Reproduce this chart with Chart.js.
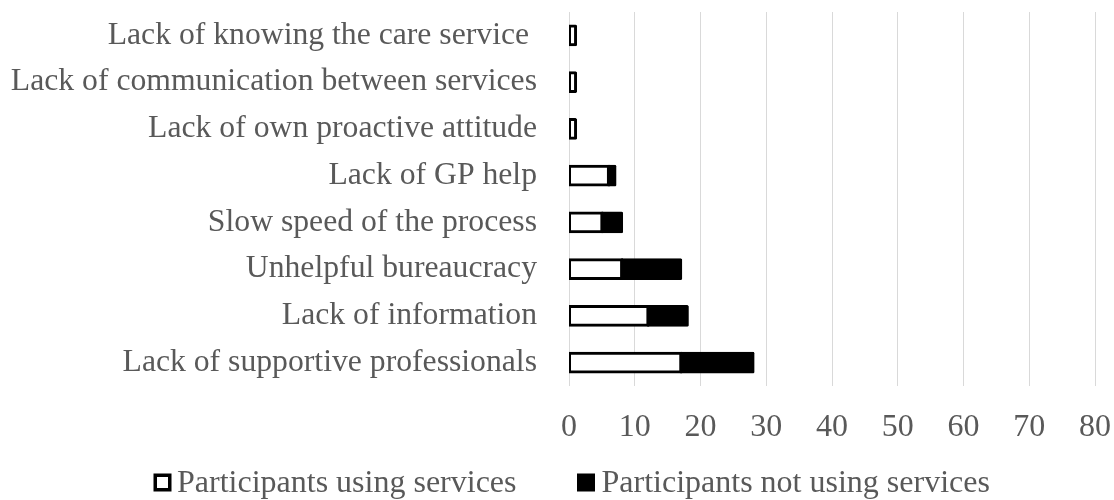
<!DOCTYPE html>
<html>
<head>
<meta charset="utf-8">
<script src="https://cdn.jsdelivr.net/npm/chart.js@4/dist/chart.umd.min.js"></script>
<style>
  html, body { margin: 0; padding: 0; background: #ffffff; }
  #wrap { width: 1114px; height: 500px; position: relative; }
</style>
</head>
<body>
<div id="wrap"><canvas id="c" width="1114" height="500"></canvas></div>
<script>
const categories = [
  "Lack of knowing the care service ",
  "Lack of communication between services",
  "Lack of own proactive attitude",
  "Lack of GP help",
  "Slow speed of the process",
  "Unhelpful bureaucracy",
  "Lack of information",
  "Lack of supportive professionals"
];
const usingServices = [1, 1, 1, 6, 5, 8, 12, 17];
const notUsingServices = [0, 0, 0, 1, 3, 9, 6, 11];
const seriesNames = ["Participants using services", "Participants not using services"];
const xTicks = [0, 10, 20, 30, 40, 50, 60, 70, 80];

const FONT = "'Liberation Serif', 'Times New Roman', serif";
const TEXT = "#595959";

const legendPlugin = {
  id: 'customLegend',
  afterDraw(chart) {
    const ctx = chart.ctx;
    ctx.save();
    const items = [
      { x: 153.5, textX: 177, fill: '#ffffff', label: seriesNames[0] },
      { x: 577, textX: 601.5, fill: '#000000', label: seriesNames[1] }
    ];
    const top = 473.5, size = 18;
    items.forEach(it => {
      ctx.fillStyle = '#000000';
      ctx.fillRect(it.x, top, size, size);
      if (it.fill === '#ffffff') {
        ctx.fillStyle = '#ffffff';
        ctx.fillRect(it.x + 3.5, top + 3.5, size - 7, size - 7);
      }
      ctx.fillStyle = TEXT;
      ctx.font = "32px " + FONT;
      ctx.textBaseline = 'alphabetic';
      ctx.textAlign = 'left';
      ctx.fillText(it.label, it.textX, 492);
    });
    ctx.restore();
  }
};

const inflate = (c) => (c.raw === 0 ? 0 : 1.5);

new Chart(document.getElementById('c'), {
  type: 'bar',
  data: {
    labels: categories,
    datasets: [
      {
        label: seriesNames[0],
        data: usingServices,
        backgroundColor: '#ffffff',
        borderColor: '#000000',
        borderWidth: 3,
        borderSkipped: false,
        borderRadius: 1.5,
        inflateAmount: inflate,
        barPercentage: 0.4,
        categoryPercentage: 1.0
      },
      {
        label: seriesNames[1],
        data: notUsingServices,
        backgroundColor: '#000000',
        borderColor: '#000000',
        borderWidth: 3,
        borderSkipped: false,
        borderRadius: 1.5,
        inflateAmount: inflate,
        barPercentage: 0.4,
        categoryPercentage: 1.0
      }
    ]
  },
  options: {
    indexAxis: 'y',
    responsive: false,
    animation: false,
    devicePixelRatio: 1,
    layout: { padding: { left: 0, right: 19, top: 12, bottom: 54 } },
    plugins: {
      legend: { display: false },
      tooltip: { enabled: false }
    },
    scales: {
      x: {
        stacked: true,
        min: 0,
        max: 80,
        afterBuildTicks(scale) { scale.ticks = xTicks.map(v => ({ value: v })); },
        afterFit(scale) { scale.height = 60; scale.paddingLeft = 0; scale.paddingRight = 0; },
        grid: { color: '#d9d9d9', lineWidth: 1, drawTicks: false },
        border: { display: false },
        ticks: {
          color: TEXT,
          font: { family: FONT, size: 32 },
          padding: 22,
          maxRotation: 0
        }
      },
      y: {
        stacked: true,
        afterFit(scale) { scale.width = 569; scale.paddingTop = 0; scale.paddingBottom = 0; },
        grid: { display: false, drawTicks: false },
        border: { display: false },
        ticks: {
          color: TEXT,
          font: { family: FONT, size: 31.7 },
          padding: 32,
          autoSkip: false
        }
      }
    }
  },
  plugins: [legendPlugin]
});
</script>
</body>
</html>
